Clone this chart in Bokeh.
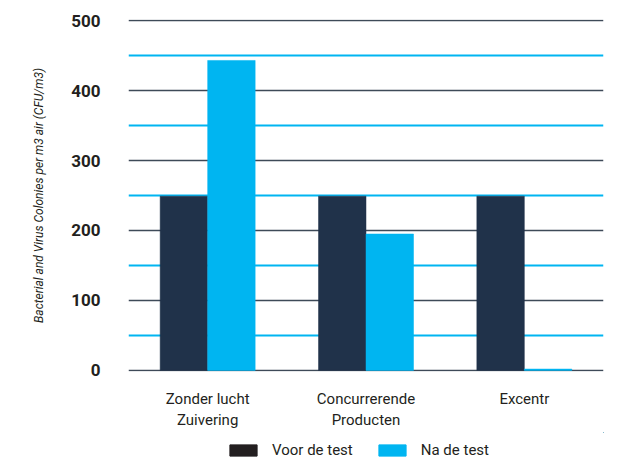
from bokeh.plotting import figure
from bokeh.models import (ColumnDataSource, FactorRange, Range1d, Grid, FixedTicker,
                          Legend, LegendItem)
from bokeh.layouts import column
from bokeh.transform import dodge
from bokeh.embed import file_html
from bokeh.resources import INLINE

categories = ["Zonder lucht\nZuivering", "Concurrerende\nProducten", "Excentr"]
voor = [249, 249, 249]
na = [443, 195, 2]
series_names = ["Voor de test", "Na de test"]
y_ticks = [0, 100, 200, 300, 400, 500]
y_minor = [50, 150, 250, 350, 450]

NAVY = "#20324a"
CYAN = "#00b5f1"
INK = "#231f20"

src = ColumnDataSource(dict(cat=categories, voor=voor, na=na))

p = figure(x_range=FactorRange(*categories), y_range=Range1d(-1.5, 501.5),
           width=625, height=432, output_backend="svg", toolbar_location=None,
           min_border_left=128, min_border_right=22, min_border_top=19,
           min_border_bottom=60)
p.outline_line_color = None
p.background_fill_color = "white"
p.border_fill_color = "white"

p.xgrid.visible = False
p.ygrid.ticker = FixedTicker(ticks=y_ticks)
p.ygrid.grid_line_color = "#3e4a58"
p.ygrid.grid_line_width = 1.3
cyan_grid = Grid(dimension=1, ticker=FixedTicker(ticks=y_minor),
                 grid_line_color=CYAN, grid_line_width=2.2)
p.add_layout(cyan_grid, "center")

p.vbar(x=dodge("cat", -0.15, range=p.x_range), top="voor", width=0.3,
       source=src, fill_color=NAVY, line_color=NAVY, line_width=0.5)
p.vbar(x=dodge("cat", 0.15, range=p.x_range), top="na", width=0.3,
       source=src, fill_color=CYAN, line_color=CYAN, line_width=0.5)

yax = p.yaxis[0]
yax.ticker = FixedTicker(ticks=y_ticks)
yax.axis_line_color = None
yax.major_tick_line_color = None
yax.minor_tick_line_color = None
yax.major_label_text_font = "Roboto"
yax.major_label_text_font_style = "bold"
yax.major_label_text_font_size = "17px"
yax.major_label_text_color = INK
yax.major_label_standoff = 22
yax.axis_label = "Bacterial and Virus Colonies per m3 air (CFU/m3)"
yax.axis_label_text_font = "Roboto"
yax.axis_label_text_font_style = "italic"
yax.axis_label_text_font_size = "12px"
yax.axis_label_text_color = INK
yax.axis_label_standoff = 22

xax = p.xaxis[0]
xax.axis_line_color = None
xax.major_tick_line_color = None
xax.minor_tick_line_color = None
xax.major_label_text_font = "Roboto"
xax.major_label_text_font_size = "15px"
xax.major_label_text_color = INK
xax.major_label_standoff = 12

# legend strip
lg = figure(width=625, height=28, output_backend="svg", toolbar_location=None,
            x_range=Range1d(0, 1), y_range=Range1d(0, 1),
            x_axis_type=None, y_axis_type=None,
            min_border_left=128, min_border_right=22, min_border_top=0,
            min_border_bottom=0)
lg.outline_line_color = None
lg.xgrid.visible = False
lg.ygrid.visible = False
sw = ColumnDataSource(dict(x=[5], top=[6], bottom=[5]))
r1 = lg.vbar(x="x", top="top", bottom="bottom", width=0.3, source=sw,
             fill_color=INK, line_color=INK)
r2 = lg.vbar(x="x", top="top", bottom="bottom", width=0.3, source=sw,
             fill_color=CYAN, line_color=CYAN)
legend = Legend(items=[LegendItem(label=series_names[0], renderers=[r1]),
                       LegendItem(label=series_names[1], renderers=[r2])],
                orientation="horizontal", location=(98, 1),
                glyph_width=34, glyph_height=14, label_text_font="Roboto",
                label_text_font_size="15px", label_text_color=INK,
                label_standoff=12, spacing=22, padding=0, margin=0,
                label_height=14,
                border_line_color=None, background_fill_alpha=0)
lg.add_layout(legend, "center")

layout = column(p, lg, spacing=0)
open("out.html", "w").write(file_html(layout, INLINE))
